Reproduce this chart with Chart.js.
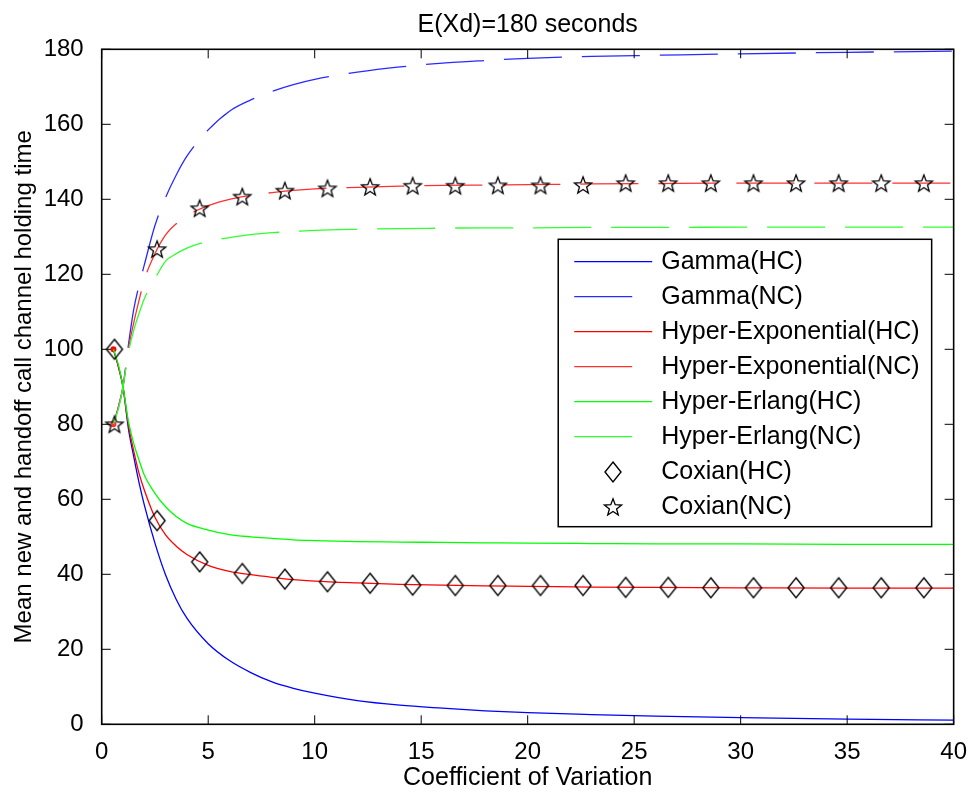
<!DOCTYPE html>
<html>
<head>
<meta charset="utf-8">
<script src="https://cdn.jsdelivr.net/npm/chart.js@4.4.0/dist/chart.umd.min.js"></script>
<style>
  html, body { margin: 0; padding: 0; background: #fff; }
  #chart { display: block; }
</style>
</head>
<body>
<canvas id="chart" width="973" height="793"></canvas>
<script>
// values
const cvGrid = [0.55, 0.8, 1, 1.25, 1.5, 1.75, 2, 2.5, 3, 3.5, 4, 5, 6, 7, 8, 9, 10, 12, 14, 16, 18, 20, 23, 26, 30, 35, 40];
const gammaHC = [100, 95, 90, 79, 71.5, 64.5, 58.5, 48.3, 39.8, 33.3, 28.3, 21.5, 17, 13.8, 11.3, 9.6, 8.3, 6.3, 5.1, 4.3, 3.6, 3.1, 2.6, 2.2, 1.8, 1.4, 1.1];
const gammaNC = [80, 85, 90, 101, 110.5, 117, 122.5, 133, 140.5, 146.5, 151.5, 158.5, 163.5, 166.5, 168.8, 170.6, 172, 173.9, 175.3, 176.3, 177, 177.6, 178.1, 178.4, 178.8, 179.2, 179.5];
const hyperExpHC = [100, 95, 90, 80, 73, 67, 62.5, 55.2, 50.5, 47.5, 45.3, 42.4, 40.8, 39.9, 39.2, 38.6, 38.2, 37.7, 37.3, 37.1, 36.9, 36.8, 36.6, 36.5, 36.4, 36.3, 36.3];
const hyperExpNC = [80, 85, 90, 100, 107, 113, 118.5, 125.5, 130.5, 133.5, 135.6, 138.3, 140, 141, 141.8, 142.4, 142.8, 143.2, 143.5, 143.7, 143.8, 143.9, 144.1, 144.2, 144.3, 144.3, 144.3];
const hyperErlHC = [100, 95.5, 90, 81, 75, 70.5, 66.5, 61.6, 58, 55.4, 53.6, 51.8, 50.6, 50, 49.6, 49.2, 49, 48.7, 48.6, 48.5, 48.4, 48.3, 48.2, 48.1, 48.1, 48, 48];
const hyperErlNC = [80, 84.5, 90, 99, 105, 109.5, 113.5, 118.8, 123.5, 125.5, 127, 128.8, 129.8, 130.6, 131.1, 131.4, 131.7, 132, 132.2, 132.3, 132.4, 132.4, 132.5, 132.5, 132.6, 132.6, 132.6];
const coxianCV = [0.6, 2.6, 4.6, 6.6, 8.6, 10.6, 12.6, 14.6, 16.6, 18.6, 20.6, 22.6, 24.6, 26.6, 28.6, 30.6, 32.6, 34.6, 36.6, 38.6];
const coxianHC = [100, 54.3, 43.3, 40.2, 38.7, 38.0, 37.6, 37.1, 37.0, 37.0, 37.0, 37.0, 36.5, 36.5, 36.4, 36.4, 36.4, 36.4, 36.4, 36.4];
const coxianNC = [80, 126.7, 137.6, 140.7, 142.3, 142.9, 143.3, 143.6, 143.6, 143.7, 143.7, 143.8, 144.3, 144.3, 144.3, 144.3, 144.3, 144.3, 144.3, 144.3];

const FONT = '"Liberation Sans", Arial, sans-serif';
const DASH = [58, 20];

function pts(xs, ys) {
  return xs.map((x, i) => ({ x: x, y: ys[i] }));
}

// matlab style markers, hollow
function makeDiamond(w, h) {
  const c = document.createElement('canvas');
  c.width = w + 4; c.height = h + 4;
  const g = c.getContext('2d');
  g.strokeStyle = '#000'; g.lineWidth = 1.4;
  g.beginPath();
  g.moveTo(c.width / 2, 2); g.lineTo(c.width - 2, c.height / 2);
  g.lineTo(c.width / 2, c.height - 2); g.lineTo(2, c.height / 2);
  g.closePath(); g.stroke();
  return c;
}
function makeStar(r) {
  const c = document.createElement('canvas');
  c.width = c.height = 2 * r + 4;
  const g = c.getContext('2d');
  const cx = c.width / 2, cy = c.height / 2 + 0.8;
  g.strokeStyle = '#000'; g.lineWidth = 1.3;
  g.beginPath();
  for (let i = 0; i < 10; i++) {
    const rr = i % 2 === 0 ? r : r * 0.42;
    const a = -Math.PI / 2 + i * Math.PI / 5;
    const px = cx + rr * Math.cos(a), py = cy + rr * Math.sin(a);
    if (i === 0) g.moveTo(px, py); else g.lineTo(px, py);
  }
  g.closePath(); g.stroke();
  return c;
}
const diamond = makeDiamond(16, 20);
const star = makeStar(9);

function curve(label, ys, color, dash, order, dot) {
  return {
    label: label,
    data: pts(cvGrid, ys),
    borderColor: color,
    backgroundColor: color,
    borderWidth: 1.3,
    borderDash: dash,
    fill: false,
    cubicInterpolationMode: 'monotone',
    pointRadius: dot ? (c => c.dataIndex === 0 ? 3 : 0) : 0,
    pointBorderWidth: 0,
    order: order
  };
}
function markers(label, ys, style, order) {
  return {
    label: label,
    data: pts(coxianCV, ys),
    showLine: false,
    pointStyle: style,
    pointRadius: 9,
    borderColor: '#000',
    backgroundColor: 'transparent',
    order: order
  };
}

const datasets = [
  curve('Gamma(HC)', gammaHC, '#0000ff', [], 8),
  curve('Gamma(NC)', gammaNC, '#2a2aff', DASH, 7),
  curve('Hyper-Exponential(HC)', hyperExpHC, '#ff0000', [], 6, true),
  curve('Hyper-Exponential(NC)', hyperExpNC, '#ff3030', DASH, 5, true),
  curve('Hyper-Erlang(HC)', hyperErlHC, '#00ff00', [], 4),
  curve('Hyper-Erlang(NC)', hyperErlNC, '#30ff30', DASH, 3),
  markers('Coxian(HC)', coxianHC, diamond, 2),
  markers('Coxian(NC)', coxianNC, star, 1)
];

// box round the axes with ticks pointing inwards, plus the title
const frame = {
  id: 'frame',
  afterDatasetsDraw(chart) {
    const { ctx, chartArea: a, scales: { x, y } } = chart;
    const t = 9;
    ctx.save();
    ctx.strokeStyle = '#000';
    ctx.lineWidth = 1;
    ctx.beginPath();
    x.ticks.forEach(tk => {
      const px = x.getPixelForValue(tk.value);
      ctx.moveTo(px, a.bottom); ctx.lineTo(px, a.bottom - t);
      ctx.moveTo(px, a.top); ctx.lineTo(px, a.top + t);
    });
    y.ticks.forEach(tk => {
      const py = y.getPixelForValue(tk.value);
      ctx.moveTo(a.left, py); ctx.lineTo(a.left + t, py);
      ctx.moveTo(a.right, py); ctx.lineTo(a.right - t, py);
    });
    ctx.stroke();
    ctx.lineWidth = 1.6;
    ctx.strokeRect(a.left, a.top, a.right - a.left, a.bottom - a.top);
    ctx.fillStyle = '#000';
    ctx.font = '25px ' + FONT;
    ctx.textAlign = 'center';
    ctx.textBaseline = 'alphabetic';
    ctx.fillText('E(Xd)=180 seconds', (a.left + a.right) / 2, a.top - 17);
    ctx.restore();
  }
};

// legend in a box inside the axes like matlab draws it
const boxLegend = {
  id: 'boxLegend',
  afterDraw(chart) {
    const { ctx, chartArea: a } = chart;
    const items = chart.data.datasets;
    const rowH = 35, sample = 78;
    ctx.save();
    ctx.font = '25px ' + FONT;
    const textW = Math.max(...items.map(d => ctx.measureText(d.label).width));
    const w = 16 + sample + 9 + textW + 12;
    const h = 22.4 + (items.length - 1) * rowH + 20;
    const right = a.right - 22, top = a.top + 190;
    const left = right - w;
    ctx.fillStyle = '#fff';
    ctx.fillRect(left, top, w, h);
    ctx.strokeStyle = '#000';
    ctx.lineWidth = 1.5;
    ctx.strokeRect(left, top, w, h);
    items.forEach((d, i) => {
      const yy = top + 22.4 + i * rowH;
      const x0 = left + 16;
      if (d.showLine === false) {
        const img = d.pointStyle;
        ctx.drawImage(img, Math.round(x0 + sample / 2 - img.width / 2), Math.round(yy - img.height / 2));
      } else {
        ctx.strokeStyle = d.borderColor;
        ctx.lineWidth = d.borderWidth;
        ctx.setLineDash(d.borderDash);
        ctx.beginPath();
        ctx.moveTo(x0, yy); ctx.lineTo(x0 + sample, yy);
        ctx.stroke();
        ctx.setLineDash([]);
      }
      ctx.fillStyle = '#000';
      ctx.textAlign = 'left';
      ctx.textBaseline = 'middle';
      ctx.fillText(d.label, x0 + sample + 9, yy);
    });
    ctx.restore();
  }
};

const chart = new Chart(document.getElementById('chart'), {
  type: 'line',
  data: { datasets: datasets },
  options: {
    responsive: false,
    animation: false,
    devicePixelRatio: 1,
    layout: { padding: { top: 49.3, right: 18, left: 0, bottom: 0 } },
    plugins: {
      legend: { display: false },
      title: { display: false },
      tooltip: { enabled: false }
    },
    scales: {
      x: {
        type: 'linear',
        min: 0,
        max: 40,
        grid: { display: false },
        border: { display: false },
        ticks: { stepSize: 5, padding: 6, color: '#000', font: { size: 24, family: FONT } },
        title: {
          display: true,
          text: 'Coefficient of Variation',
          color: '#000',
          font: { size: 25, family: FONT },
          padding: { top: 0, bottom: 0 }
        },
        afterFit(s) { s.height = 68.7; }
      },
      y: {
        type: 'linear',
        min: 0,
        max: 180,
        grid: { display: false },
        border: { display: false },
        ticks: { stepSize: 20, padding: 10, color: '#000', font: { size: 24, family: FONT } },
        title: {
          display: true,
          text: 'Mean new and handoff call channel holding time',
          color: '#000',
          font: { size: 24, family: FONT },
          padding: { top: 9.5, bottom: 0 }
        },
        afterFit(s) { s.width = 101.7; }
      }
    }
  },
  plugins: [frame, boxLegend]
});
</script>
</body>
</html>
